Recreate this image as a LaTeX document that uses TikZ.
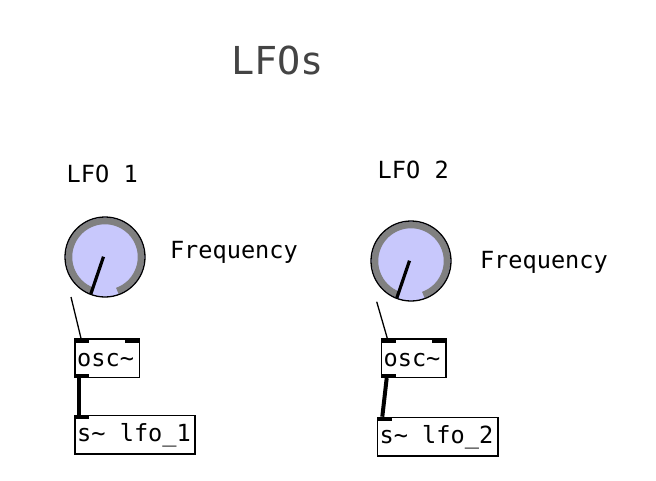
\documentclass[tikz,border=0pt]{standalone}
\usepackage{fontspec}
\newfontfamily\pdfont{DejaVu Sans Mono}
\definecolor{knobbg}{RGB}{200,200,252}
\definecolor{knobarc}{RGB}{128,128,128}
\definecolor{titlecol}{RGB}{68,68,68}
\tikzset{
  lbl/.style={anchor=base west,inner sep=0pt,font=\pdfont\fontsize{23.6}{28}\selectfont},
  ttl/.style={anchor=base west,inner sep=0pt,text=titlecol,font=\pdfont\fontsize{38.5}{44}\selectfont},
  obj/.style={draw,line width=1.4pt,minimum height=38.4pt,inner sep=0pt,anchor=north west,text depth=0pt},
  thinwire/.style={line width=1.3pt},
  sigwire/.style={line width=4pt},
  iolet/.style={fill=black},
}
\newcommand{\pdknob}[3]{% name, x, y
  \begin{scope}[shift={(#2,#3)},yscale=-1]
    \fill[knobbg] (0,0) circle (40);
    \draw[knobarc,line width=6.5pt] (-70:36) arc[start angle=-70,delta angle=319,radius=36];
    \draw[line width=1.3pt] (0,0) circle (40);
    \draw[line width=3.2pt] (-1.5,0.3) -- (-111:39.5);
    \coordinate (#1) at (0,0);
  \end{scope}
}
\begin{document}
\begin{tikzpicture}[x=1pt,y=-1pt]
\useasboundingbox[fill=white] (0,0) rectangle (656,480);
\node[ttl] (title) at (231,74.3) {LFOs};
\node[lbl] (l1) at (66.5,182.3) {LFO 1};
\node[lbl] (l2) at (377.5,178.3) {LFO 2};
\node[lbl] (f1) at (169.8,258.3) {Frequency};
\node[lbl] (f2) at (479.8,268.3) {Frequency};
% knobs
\pdknob{k1}{105}{257}
\pdknob{k2}{411}{261}
\coordinate (k1out) at (71,297);
\coordinate (k2out) at (376.7,301.7);
% objects
\node[obj,minimum width=64.7pt] (o1) at (74.3,338.3) {};
\node[lbl] at (77,366) {osc\char`\~};
\node[obj,minimum width=120pt] (s1) at (74.3,415) {};
\node[lbl] at (77,441.7) {s\char`\~{} lfo\_1};
\node[obj,minimum width=64.6pt] (o2) at (380.7,338.3) {};
\node[lbl] at (383.4,366) {osc\char`\~};
\node[obj,minimum width=120.6pt] (s2) at (376.7,416.7) {};
\node[lbl] at (379.4,443.4) {s\char`\~{} lfo\_2};
% inlets/outlets
\foreach \b in {o1,o2}{
  \fill[iolet] (\b.north west) rectangle ++(15,4.4);
  \fill[iolet] (\b.north east) rectangle ++(-15,4.4);
  \fill[iolet] (\b.south west) rectangle ++(15,-4.4);
}
\foreach \b in {s1,s2}{
  \fill[iolet] (\b.north west) rectangle ++(15,4.4);
}
% wires
\draw[thinwire] (k1out) -- ([xshift=6.7pt]o1.north west);
\draw[thinwire] (k2out) -- ([xshift=6.6pt]o2.north west);
\draw[sigwire] ([xshift=5pt]o1.south west) -- ([xshift=5pt]s1.north west);
\draw[sigwire] ([xshift=6pt]o2.south west) -- ([xshift=5.6pt]s2.north west);
\end{tikzpicture}
\end{document}
